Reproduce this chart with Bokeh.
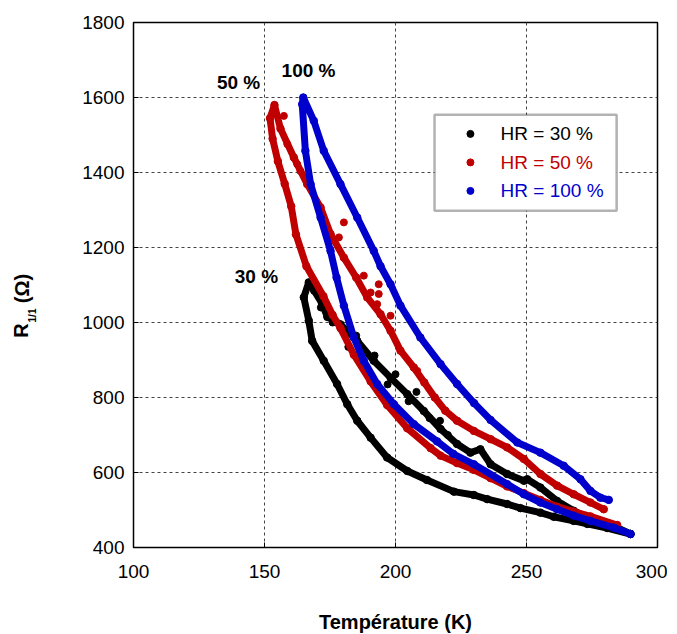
import math
from bokeh.plotting import figure
from bokeh.layouts import row
from bokeh.models import Range1d, Label, BoxAnnotation, FixedTicker
from bokeh.embed import file_html
from bokeh.resources import INLINE

x_ticks = [100, 150, 200, 250, 300]
y_ticks = [400, 600, 800, 1000, 1200, 1400, 1600, 1800]

# HR = 30 % (black) : loop, warm end -> upper branch -> peak -> lower branch
t30 = [289.7, 284.6, 274.4, 268.0, 261.7, 255.3, 250.3, 249.0, 242.6, 236.3, 232.4, 228.6,
       223.5, 217.2, 210.8, 204.5, 198.1, 191.7, 185.4, 179.0, 174.0, 172.0, 169.0, 166.9,
       165.0, 166.9, 168.2, 172.6, 177.7, 181.6, 185.4, 190.5, 196.8, 204.5, 212.0, 222.3,
       229.9, 235.0, 242.6, 247.7, 255.3, 260.4, 268.0, 273.2, 280.8, 289.7]
r30 = [436, 453, 476, 498, 524, 560, 582, 578, 596, 622, 662, 653,
       676, 716, 764, 809, 853, 898, 951, 995, 1015, 1050, 1085, 1107,
       1067, 1005, 951, 898, 836, 782, 738, 693, 640, 604, 580, 549,
       540, 529, 516, 505, 493, 482, 471, 463, 452, 436]
# scattered points around the HR = 30 % upper branch
t30s = [171.5, 176.0, 182.0, 185.0, 189.0, 192.0, 197.0, 200.0, 205.0, 208.0, 213.0, 217.0, 220.0]
r30s = [1040, 1000, 935, 965, 880, 912, 835, 862, 790, 815, 745, 738, 700]

# HR = 50 % (red)
t50 = [279.5, 274.4, 268.0, 261.7, 255.3, 249.0, 242.6, 236.3, 229.9, 223.5, 219.0, 215.0,
       211.0, 207.0, 201.9, 198.1, 194.3, 189.2, 185.0, 180.3, 175.2, 171.4, 166.3, 161.2,
       156.1, 153.8, 152.1, 153.1, 155.1, 157.7, 160.2, 162.0, 166.0, 172.5, 176.0, 179.0,
       184.1, 190.5, 196.8, 204.5, 213.4, 217.2, 223.5, 229.9, 236.3, 242.6, 249.0, 255.3,
       261.7, 268.0, 274.4, 284.6]
r50 = [502, 520, 542, 565, 596, 636, 667, 689, 711, 738, 765, 800,
       840, 880, 925, 978, 1022, 1067, 1120, 1173, 1236, 1307, 1369, 1440,
       1517, 1580, 1545, 1490, 1430, 1370, 1310, 1235, 1150, 1070, 1020, 985,
       914, 843, 780, 718, 665, 645, 625, 607, 585, 563, 545, 527,
       509, 496, 483, 460]
# scattered points around the HR = 50 % upper branch
t50s = [157.4, 158.7, 162.5, 163.7, 178.4, 180.3, 187.9, 190.5, 193.0, 193.6, 193.6, 198.1, 208.3]
r50s = [1551, 1476, 1422, 1404, 1227, 1267, 1125, 1080, 1049, 1102, 1076, 1018, 871]

# HR = 100 % (blue)
t100 = [281.4, 278.2, 274.4, 270.6, 264.2, 255.3, 246.5, 236.3, 230.0, 223.5, 217.2, 209.5,
        201.9, 198.1, 194.3, 191.7, 185.4, 179.0, 172.6, 168.8, 164.8, 164.4, 165.6, 167.6,
        171.4, 175.2, 177.5, 180.3, 184.1, 187.9, 193.0, 199.4, 207.0, 215.9, 222.0, 229.9,
        242.6, 249.0, 255.3, 261.7, 268.0, 274.4, 283.3, 289.7]
r100 = [527, 533, 551, 582, 618, 653, 680, 740, 785, 836, 889, 960,
        1045, 1102, 1150, 1191, 1280, 1369, 1458, 1538, 1600, 1582, 1458, 1369,
        1280, 1191, 1120, 1045, 960, 898, 836, 782, 729, 683, 650, 622,
        569, 542, 520, 502, 485, 471, 453, 436]

series = [
    ("HR = 30 %", "#000000", t30, r30, t30s, r30s),
    ("HR = 50 %", "#C00000", t50, r50, t50s, r50s),
    ("HR = 100 %", "#0000CC", t100, r100, [], []),
]

FONT = "Liberation Sans"
TOTAL_H = 626
LAB_W = 40

# narrow panel holding the rotated y-axis title (with subscript)
lf = figure(frame_width=LAB_W, frame_height=TOTAL_H, x_range=Range1d(0, LAB_W),
            y_range=Range1d(TOTAL_H, 0), output_backend="svg", toolbar_location=None,
            x_axis_location=None, y_axis_location=None,
            min_border_left=0, min_border_right=0, min_border_top=0, min_border_bottom=0)
lf.outline_line_color = None
lf.grid.visible = False
lf.background_fill_color = "white"
lf.border_fill_color = "white"


def ylab(text, x, y, size):
    lf.add_layout(Label(x=x, y=y, text=text, angle=math.pi / 2, text_align="center",
                        text_baseline="middle", text_font=FONT, text_font_style="bold",
                        text_font_size=size, text_color="black"))


ylab("R", 20, 308, "20px")
ylab("1/1", 32, 293, "10px")
ylab("(Ω)", 21, 266, "20px")

p = figure(frame_width=524, frame_height=525,
           x_range=Range1d(100, 300), y_range=Range1d(400, 1800),
           output_backend="svg", toolbar_location=None,
           min_border_left=133 - LAB_W, min_border_right=10, min_border_top=22,
           min_border_bottom=TOTAL_H - 22 - 525)
p.background_fill_color = "white"
p.border_fill_color = "white"
p.outline_line_color = "black"
p.outline_line_width = 1.5

p.xaxis.ticker = FixedTicker(ticks=x_ticks)
p.yaxis.ticker = FixedTicker(ticks=y_ticks)
for ax in (p.xaxis[0], p.yaxis[0]):
    ax.major_label_text_font = FONT
    ax.major_label_text_font_size = "19px"
    ax.major_label_text_color = "black"
    ax.major_tick_in = 5
    ax.major_tick_out = 0
    ax.minor_tick_in = 0
    ax.minor_tick_out = 0
    ax.axis_line_color = "black"
    ax.major_tick_line_color = "black"
p.xaxis.major_label_standoff = 17
p.yaxis.major_label_standoff = 9
p.xaxis.axis_label = "Température (K)"
p.xaxis.axis_label_text_font = FONT
p.xaxis.axis_label_text_font_style = "bold"
p.xaxis.axis_label_text_font_size = "20px"
p.xaxis.axis_label_text_color = "black"
p.xaxis.axis_label_standoff = 30

p.grid.grid_line_color = "#444444"
p.grid.grid_line_dash = "3 3"
p.grid.grid_line_width = 1

for name, color, t, r, ts, rs in series:
    p.line(t, r, line_color=color, line_width=7, line_join="round", line_cap="round")
    p.scatter(t, r, size=7.5, color=color)
    if ts:
        p.scatter(ts, rs, size=7, color=color)

# curve annotations
for txt, x, y in (("50 %", 140.1, 1639), ("100 %", 166.8, 1671), ("30 %", 146.9, 1122)):
    p.add_layout(Label(x=x, y=y, text=txt, text_align="center", text_baseline="middle",
                       text_font=FONT, text_font_style="bold", text_font_size="19px",
                       text_color="black"))

# legend
p.add_layout(BoxAnnotation(left=214.9, right=284.4, top=1554, bottom=1298,
                           fill_color="white", fill_alpha=1.0,
                           line_color="black", line_width=2.5))
leg_y = [1503, 1427, 1351]
for (name, color, *_), yy in zip(series, leg_y):
    p.scatter([228.6], [yy], size=7, color=color, level="overlay")
    p.add_layout(Label(x=240.1, y=yy, text=name, text_align="left", text_baseline="middle",
                       text_font=FONT, text_font_size="19px", text_color=color))

layout = row(lf, p, spacing=0)
open("out.html", "w").write(file_html(layout, INLINE))
